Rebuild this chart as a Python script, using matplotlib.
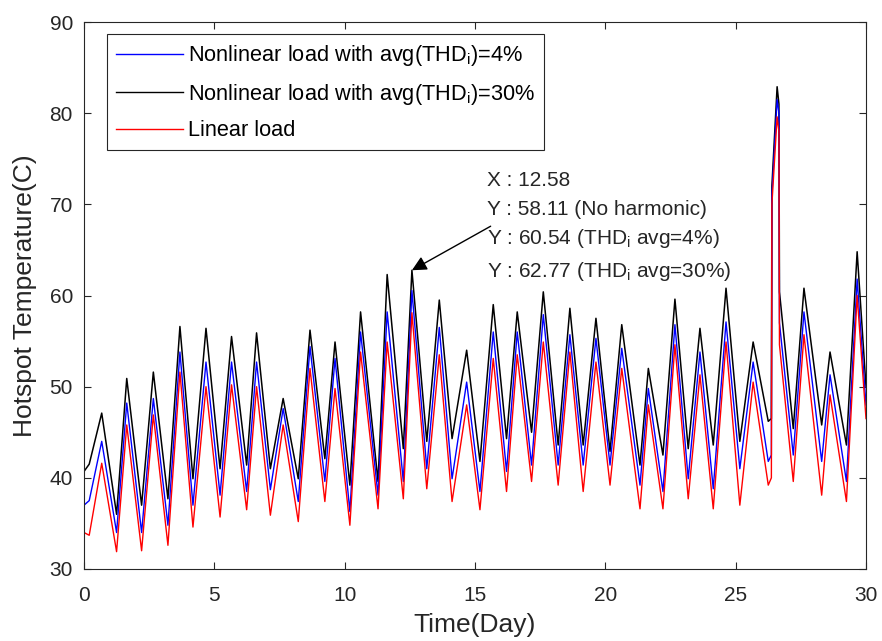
import numpy as np
import matplotlib
matplotlib.use("Agg")
import matplotlib.pyplot as plt
from matplotlib.lines import Line2D

plt.rcParams['font.family'] = ['Liberation Sans', 'DejaVu Sans']
plt.rcParams['mathtext.fontset'] = 'custom'
plt.rcParams['mathtext.rm'] = 'Liberation Sans'
plt.rcParams['mathtext.it'] = 'Liberation Sans'
plt.rcParams['mathtext.default'] = 'regular'

# ---- data (days, degrees C) ----
start_day = [0.0]
start_black = [40.7]
start_blue = [37.0]
start_red = [34.0]

trough_day = [0.20, 1.25, 2.21, 3.22, 4.18, 5.22, 6.24, 7.15, 8.22, 9.24,
              10.20, 11.28, 12.25, 13.15, 14.12, 15.19, 16.21, 17.17, 18.19, 19.15,
              20.18, 21.33, 22.21, 23.18, 24.14, 25.16, 26.25, 27.21, 28.30, 29.25]
trough_black = [41.5, 36.0, 37.0, 37.7, 39.9, 41.0, 41.4, 41.0, 39.9, 42.1,
                39.2, 39.6, 43.2, 44.0, 44.3, 41.8, 44.3, 45.0, 43.6, 43.6,
                42.9, 41.4, 42.5, 43.2, 43.6, 44.0, 46.2, 45.4, 45.8, 43.6]
trough_blue = [37.5, 34.0, 34.0, 34.8, 37.0, 38.1, 38.5, 38.7, 37.4, 39.6,
               36.3, 38.1, 39.6, 41.0, 39.9, 38.5, 40.7, 41.4, 41.4, 41.4,
               41.4, 39.2, 38.5, 39.9, 38.8, 41.0, 41.8, 42.5, 41.8, 39.6]
trough_red = [33.7, 31.9, 32.0, 32.6, 34.6, 35.7, 36.5, 35.9, 35.2, 37.4,
              34.8, 36.6, 37.7, 38.8, 37.4, 36.5, 38.5, 39.6, 39.2, 38.5,
              39.2, 36.6, 36.6, 37.7, 36.6, 37.0, 39.2, 39.6, 38.1, 37.4]

peak_day = [0.68, 1.64, 2.66, 3.68, 4.68, 5.66, 6.62, 7.64, 8.67, 9.63,
            10.61, 11.63, 12.58, 13.63, 14.68, 15.70, 16.62, 17.62, 18.64, 19.64,
            20.63, 21.65, 22.67, 23.63, 24.63, 25.67, 27.62, 28.62, 29.66]
peak_black = [47.1, 50.9, 51.6, 56.6, 56.4, 55.5, 55.9, 48.7, 56.2, 54.9,
              58.2, 62.3, 62.77, 59.5, 54.0, 59.0, 58.2, 60.4, 58.6, 57.5,
              56.8, 52.0, 59.6, 56.4, 60.8, 54.9, 60.8, 53.8, 64.8]
peak_blue = [44.0, 48.2, 48.7, 53.8, 52.7, 52.7, 52.7, 47.6, 54.4, 53.1,
             56.0, 58.2, 60.54, 56.5, 50.5, 56.0, 56.0, 57.9, 55.7, 55.3,
             54.2, 49.8, 56.8, 53.8, 57.1, 52.7, 58.2, 51.3, 61.8]
peak_red = [41.6, 45.8, 46.9, 51.6, 50.0, 50.2, 50.0, 45.8, 52.0, 49.8,
            53.8, 54.9, 58.11, 53.5, 48.0, 53.1, 53.5, 54.9, 53.8, 52.7,
            52.0, 48.0, 54.6, 51.3, 54.9, 50.5, 55.7, 49.1, 60.0]

# day-26 overload spike
spike_day = [26.37, 26.39, 26.59, 26.66, 26.68]
spike_black = [46.5, 72.0, 82.9, 81.0, 60.4]
spike_blue = [42.5, 71.0, 81.5, 80.0, 57.0]
spike_red = [40.0, 70.0, 79.6, 78.0, 54.6]

end_day = [30.0]
end_black = [50.0]
end_blue = [48.0]
end_red = [46.5]

marker_x = 12.58
marker_y = {'none': 58.11, 'thd4': 60.54, 'thd30': 62.77}


def build(sv, tv, pv, kv, ev):
    x = np.concatenate([start_day, trough_day, peak_day, spike_day, end_day])
    y = np.concatenate([sv, tv, pv, kv, ev])
    order = np.argsort(x)
    return x[order], y[order]


xb, yb = build(start_black, trough_black, peak_black, spike_black, end_black)
xu, yu = build(start_blue, trough_blue, peak_blue, spike_blue, end_blue)
xr, yr = build(start_red, trough_red, peak_red, spike_red, end_red)

fig = plt.figure(figsize=(8.82, 6.41), dpi=100)
ax = fig.add_axes([84/882, 1-569/641, (866-84)/882, (569-22)/641])

ax.plot(xb, yb, color='black', lw=1.1)
ax.plot(xu, yu, color='#0000ff', lw=1.0)
ax.plot(xr, yr, color='#ff0000', lw=1.0)

ax.set_xlim(0, 30)
ax.set_ylim(30, 90)
ax.set_xticks(np.arange(0, 31, 5))
ax.set_yticks(np.arange(30, 91, 10))
ax.tick_params(direction='in', top=True, right=True, length=5, width=0.8,
               labelsize=15, colors='#262626')
ax.tick_params(axis='x', pad=12)
ax.tick_params(axis='y', pad=8)
for sp in ax.spines.values():
    sp.set_color('#262626')
    sp.set_linewidth(0.8)

ax.set_xlabel('Time(Day)', fontsize=19, color='#262626', labelpad=6)
ax.set_ylabel('Hotspot Temperature(C)', fontsize=19, color='#262626', labelpad=9)

handles = [Line2D([], [], color='#0000ff', lw=1.0),
           Line2D([], [], color='black', lw=1.0),
           Line2D([], [], color='#ff0000', lw=1.0)]
labels = ['Nonlinear load with avg(THD$_{i}$)=4%',
          'Nonlinear load with avg(THD$_{i}$)=30%',
          'Linear load']
leg = ax.legend(handles, labels, loc='upper left', bbox_to_anchor=(0.029, 0.978),
                fontsize=15.7, frameon=True, fancybox=False, framealpha=1,
                edgecolor='#262626', handlelength=3.1, handletextpad=0.2,
                labelspacing=0.62, borderpad=0.42, borderaxespad=0)
leg.get_frame().set_linewidth(0.8)

tx = 15.45
ax.text(tx, 72.6, f'X : {marker_x:.2f}', fontsize=15, va='center', ha='left', color='#262626')
ax.text(tx, 69.4, f'Y : {marker_y["none"]:.2f} (No harmonic)', fontsize=15, va='center', ha='left', color='#262626')
ax.text(tx, 66.2, f'Y : {marker_y["thd4"]:.2f} (THD$_{{i}}$ avg=4%)', fontsize=15, va='center', ha='left', color='#262626')
ax.text(tx, 62.6, f'Y : {marker_y["thd30"]:.2f} (THD$_{{i}}$ avg=30%)', fontsize=15, va='center', ha='left', color='#262626')
ax.annotate('', xy=(marker_x, marker_y['thd30']), xytext=(15.6, 67.6),
            arrowprops=dict(arrowstyle='-|>', color='black', lw=1.0,
                            mutation_scale=22, shrinkA=0, shrinkB=0))

fig.savefig('out.png', dpi=100, facecolor='white')
